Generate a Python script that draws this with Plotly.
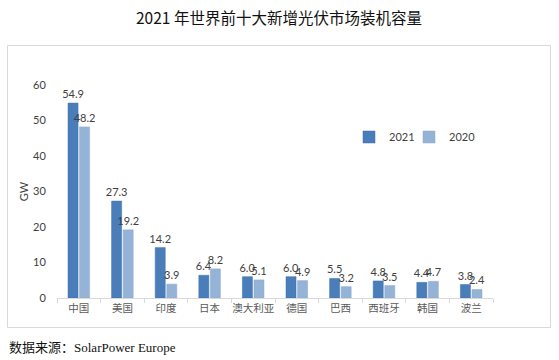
import plotly.graph_objects as go

categories = ["中国", "美国", "印度", "日本", "澳大利亚", "德国", "巴西", "西班牙", "韩国", "波兰"]
values_2021 = [54.9, 27.3, 14.2, 6.4, 6.0, 6.0, 5.5, 4.8, 4.4, 3.8]
values_2020 = [48.2, 19.2, 3.9, 8.2, 5.1, 4.9, 3.2, 3.5, 4.7, 2.4]
y_ticks = [0, 10, 20, 30, 40, 50, 60]

W, H = 559, 360
L, R, T, B = 57, 66, 85, 62
pw, ph = W - L - R, H - T - B

def px_x(p):
    return (p - L) / pw

def px_y(p):
    return (H - B - p) / ph

num_font = dict(family="Lato, Liberation Sans, sans-serif", size=11, color="#404040")
leg_font = dict(family="Lato, Liberation Sans, sans-serif", size=11, color="#404040")

fig = go.Figure()
fig.add_trace(go.Bar(
    name="2021", x=categories, y=values_2021, legend="legend",
    marker=dict(color="#4a7ebb", line=dict(color="#3f6fa8", width=0.5)),
    text=[f"{v:.1f}" for v in values_2021], textposition="outside",
    textfont=num_font, constraintext="none", cliponaxis=False,
))
fig.add_trace(go.Bar(
    name="2020", x=categories, y=values_2020, legend="legend2",
    marker=dict(color="#95b3d7", line=dict(color="#8aa8cf", width=0.5)),
    text=[f"{v:.1f}" for v in values_2020], textposition="outside",
    textfont=num_font, constraintext="none", cliponaxis=False,
))

fig.update_layout(
    width=W, height=H,
    margin=dict(l=L, r=R, t=T, b=B, pad=0, autoexpand=False),
    paper_bgcolor="white", plot_bgcolor="white",
    barmode="group", bargap=0.47, bargroupgap=0.13,
    showlegend=True,
    legend=dict(x=px_x(349), y=px_y(137), xanchor="left", yanchor="middle",
                font=leg_font, bgcolor="rgba(0,0,0,0)"),
    legend2=dict(x=px_x(409), y=px_y(137), xanchor="left", yanchor="middle",
                 font=leg_font, bgcolor="rgba(0,0,0,0)"),
    xaxis=dict(
        showline=True, linecolor="#d9d9d9", linewidth=1,
        ticks="outside", ticklen=4, tickcolor="#d9d9d9", tickson="boundaries",
        tickangle=0, automargin=False,
        tickfont=dict(family="Noto Sans CJK SC", size=10.5, color="#595959"),
        showgrid=False, zeroline=False,
    ),
    yaxis=dict(
        range=[0, 60], tickvals=y_ticks, showgrid=False, zeroline=False, showline=False,
        automargin=False,
        ticks="outside", ticklen=8, tickcolor="rgba(0,0,0,0)",
        tickfont=dict(family="Lato, Liberation Sans, sans-serif", size=11, color="#404040"),
        title=dict(text="GW", font=dict(family="Lato, Liberation Sans, sans-serif", size=11, color="#404040"),
                   standoff=2),
    ),
    shapes=[dict(type="rect", xref="paper", yref="paper",
                 x0=px_x(7.5), x1=px_x(550.5), y0=px_y(327.5), y1=px_y(45.5),
                 line=dict(color="#d9d9d9", width=1), fillcolor="rgba(0,0,0,0)", layer="below")],
    annotations=[
        dict(text="2021 年世界前十大新增光伏市场装机容量", xref="paper", yref="paper",
             x=px_x(279), y=px_y(17), xanchor="center", yanchor="middle", showarrow=False,
             font=dict(family="Noto Sans CJK SC", size=15.5, color="#111111")),
        dict(text="数据来源：<span style='font-family:Liberation Serif'>SolarPower Europe</span>",
             xref="paper", yref="paper",
             x=px_x(7), y=px_y(346), xanchor="left", yanchor="middle", showarrow=False,
             font=dict(family="Noto Sans CJK SC", size=13, color="#111111")),
    ],
)

fig.write_html("out.html", config={"displayModeBar": False},
               post_script="document.body.style.margin='0';document.body.style.overflow='hidden';")
